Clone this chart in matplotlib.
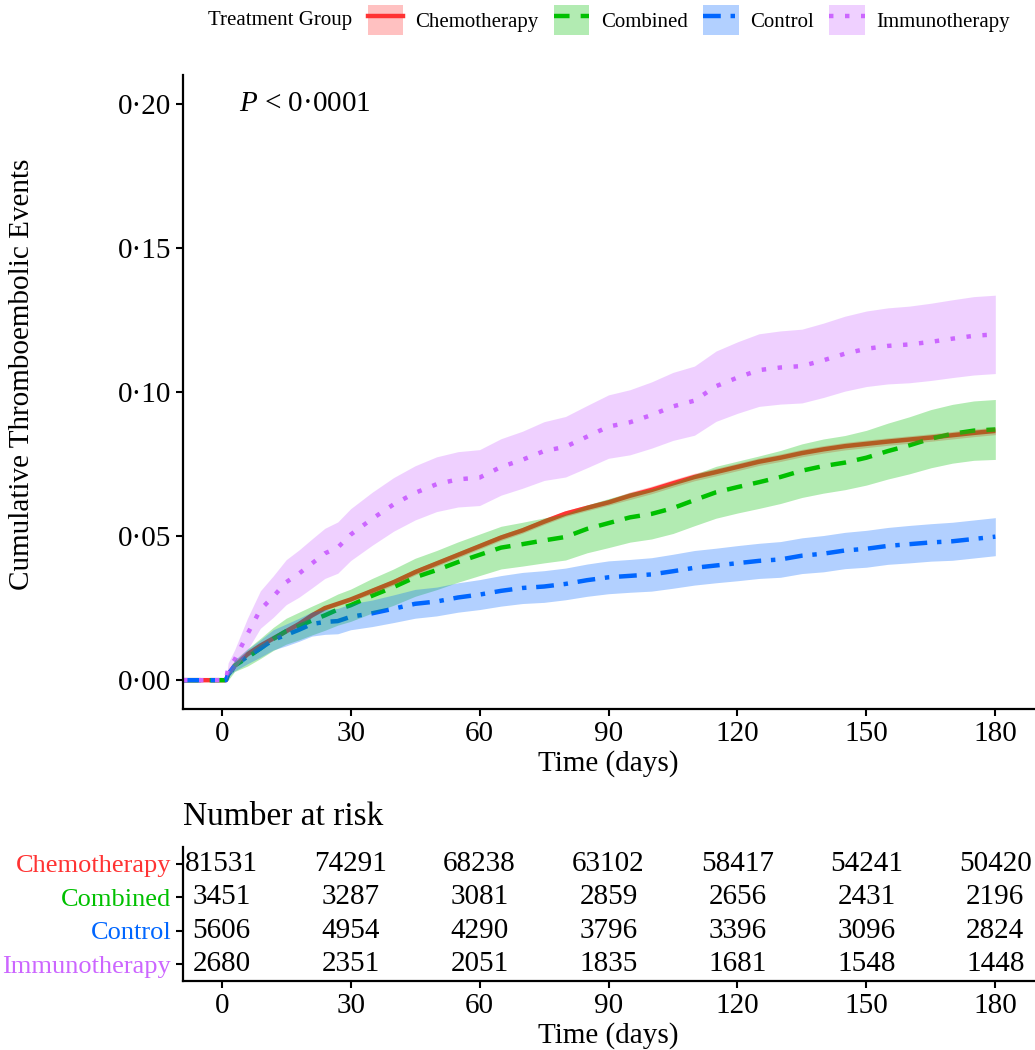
import matplotlib
matplotlib.use('Agg')

import matplotlib.pyplot as plt
from matplotlib.patches import Patch
from matplotlib.lines import Line2D

plt.rcParams['font.family'] = ['Liberation Serif', 'DejaVu Serif']
plt.rcParams['mathtext.fontset'] = 'custom'
plt.rcParams['mathtext.it'] = 'Liberation Serif:italic'
plt.rcParams['mathtext.rm'] = 'Liberation Serif'

# time points (days)
days = [-9, 1, 1.5, 3, 6, 9, 12, 15, 18, 21, 24, 27,
        30, 35, 40, 45, 50, 55, 60, 65, 70, 75, 80, 85, 90, 95, 100, 105,
        110, 115, 120, 125, 130, 135, 140, 145, 150, 155, 160, 165, 170, 175, 180]

groups = ['Chemotherapy', 'Combined', 'Control', 'Immunotherapy']

chemo = [0, 0, .002, .005, .009, .012, .0145, .017, .0195, .0225, .025, .0265,
         .028, .031, .034, .0375, .0405, .0435, .0465, .0495, .052, .055, .0578, .0598, .0617, .064, .066, .0683,
         .0705, .0722, .074, .0758, .0772, .0788, .0801, .0812, .082, .0828, .0835, .0842, .085, .0858, .0865]
chemo_lo = [0, 0, .0016, .0044, .0083, .0113, .0138, .0163, .0188, .0218, .0243, .0258,
            .0273, .0300, .0330, .0365, .0395, .0425, .0455, .0485, .0510, .0540, .0568, .0588, .0607, .0627, .0647, .0670,
            .0692, .0709, .0727, .0745, .0759, .0775, .0788, .0799, .0807, .0815, .0822, .0829, .0837, .0845, .0852]
chemo_hi = [0, 0, .0024, .0056, .0097, .0127, .0152, .0177, .0202, .0232, .0257, .0272,
            .0287, .0320, .0350, .0385, .0415, .0445, .0475, .0505, .0530, .0560, .0588, .0608, .0627, .0653, .0673, .0696,
            .0718, .0735, .0753, .0771, .0785, .0801, .0814, .0825, .0833, .0841, .0848, .0855, .0863, .0871, .0878]

combined = [0, 0, .001, .005, .0079, .011, .0143, .017, .0188, .0207, .0225, .0245,
            .026, .0293, .0323, .0357, .0382, .041, .0435, .046, .0472, .0485, .0497, .0525, .0545, .0565, .0577, .0597,
            .0625, .0652, .067, .0687, .0705, .0727, .0743, .0755, .0772, .0795, .0815, .0838, .0855, .0866, .087]
combined_lo = [0, 0, 0, .003, .0049, .0075, .0103, .0125, .014, .0157, .0173, .0191,
               .0204, .0233, .026, .0291, .0314, .034, .0363, .0386, .0396, .0407, .0417, .0442, .046, .0479, .049, .0509,
               .0536, .0562, .058, .0596, .0613, .0634, .0649, .0661, .0677, .0698, .0716, .0737, .0753, .0763, .0766]
combined_hi = [0, 0, .002, .007, .0109, .0145, .0183, .0215, .0236, .0257, .0277, .0299,
               .0316, .0353, .0386, .0423, .045, .048, .0507, .0534, .0548, .0563, .0577, .0608, .063, .0651, .0664, .0685,
               .0714, .0742, .076, .0778, .0797, .082, .0837, .0849, .0867, .0892, .0914, .0939, .0957, .0969, .0974]

control = [0, 0, .002, .005, .0082, .011, .014, .0157, .0175, .0195, .0202, .0205,
           .022, .0232, .0248, .0265, .0273, .0287, .0297, .031, .032, .0325, .0334, .0347, .0357, .0362, .0367, .0378,
           .039, .0398, .0406, .0414, .0419, .0432, .0439, .045, .0456, .0466, .0472, .0478, .0482, .049, .0498]
control_lo = [0, 0, .001, .0032, .0057, .008, .0105, .0119, .0135, .0153, .0159, .0161,
              .0175, .0186, .02, .0215, .0223, .0236, .0245, .0257, .0266, .027, .0279, .0291, .03, .0305, .0309, .0319,
              .033, .0338, .0345, .0353, .0357, .037, .0376, .0387, .0392, .0402, .0407, .0413, .0416, .0424, .0432]
control_hi = [0, 0, .003, .0068, .0107, .014, .0175, .0195, .0215, .0237, .0245, .0249,
              .0265, .0278, .0296, .0315, .0323, .0338, .0349, .0363, .0374, .038, .0389, .0403, .0414, .0419, .0425, .0437,
              .045, .0458, .0467, .0475, .0481, .0494, .0502, .0513, .052, .053, .0537, .0543, .0548, .0556, .0564]

immuno = [0, 0, .004, .007, .016, .0245, .029, .034, .037, .0405, .044, .046,
          .0505, .056, .061, .065, .068, .0697, .0703, .074, .0765, .0795, .081, .0845, .088, .0895, .092, .095,
          .097, .102, .105, .1076, .1085, .109, .111, .1133, .115, .116, .1165, .1174, .1185, .1195, .12]
immuno_lo = [0, 0, .002, .0035, .0105, .018, .0218, .0262, .0288, .032, .0353, .0371,
             .0415, .0468, .0517, .0556, .0585, .0601, .0606, .0642, .0666, .0693, .0705, .0737, .077, .0782, .0805, .0832,
             .085, .0898, .0926, .095, .0958, .0962, .0981, .1003, .1019, .1028, .1032, .104, .105, .1059, .1064]
immuno_hi = [0, 0, .006, .0105, .0215, .031, .0362, .0418, .0452, .049, .0527, .0549,
             .0595, .0652, .0703, .0744, .0775, .0793, .08, .0838, .0864, .0897, .0915, .0953, .099, .1008, .1035, .1068,
             .109, .1142, .1174, .1202, .1212, .1218, .1239, .1263, .1281, .1292, .1298, .1308, .132, .1331, .1336]

# number at risk table
risk_times = [0, 30, 60, 90, 120, 150, 180]
risk_chemo = [81531, 74291, 68238, 63102, 58417, 54241, 50420]
risk_combined = [3451, 3287, 3081, 2859, 2656, 2431, 2196]
risk_control = [5606, 4954, 4290, 3796, 3396, 3096, 2824]
risk_immuno = [2680, 2351, 2051, 1835, 1681, 1548, 1448]

colors = ['#FF3333', '#00C000', '#0066FF', '#CC66FF']
styles = ['-', (0, (3.5, 2.5)), (0, (4, 2.2, 1, 2.2)), (0, (1, 2.6))]
curves = [chemo, combined, control, immuno]
lows = [chemo_lo, combined_lo, control_lo, immuno_lo]
highs = [chemo_hi, combined_hi, control_hi, immuno_hi]
risks = [risk_chemo, risk_combined, risk_control, risk_immuno]

W, H = 1035, 1050
fig = plt.figure(figsize=(W / 100, H / 100), dpi=100)

ax = fig.add_axes([183 / W, 1 - 709 / H, (1034 - 183) / W, (709 - 75) / H])

# lines first, then ribbons on top (like survminer)
for y, c, ls in zip(curves, colors, styles):
    ax.plot(days, y, color=c, lw=3.2, linestyle=ls, solid_capstyle='butt', zorder=2)
for lo, hi, c in zip(lows, highs, colors):
    ax.fill_between(days, lo, hi, color=c, alpha=0.3, lw=0, zorder=3)

ax.set_xlim(-9, 189)
ax.set_ylim(-0.01, 0.21)
ax.set_xticks([0, 30, 60, 90, 120, 150, 180])
yt = [0, 0.05, 0.10, 0.15, 0.20]
ax.set_yticks(yt)
ax.set_yticklabels([f'{v:.2f}'.replace('.', '·') for v in yt])
ax.tick_params(labelsize=21, length=5, width=1.5, colors='black')
for s in ['top', 'right']:
    ax.spines[s].set_visible(False)
for s in ['left', 'bottom']:
    ax.spines[s].set_linewidth(1.6)
ax.set_xlabel('Time (days)', fontsize=21, labelpad=2)
fig.text(22 / W, 1 - 374 / H, 'Cumulative Thromboembolic Events', fontsize=21,
         rotation=90, ha='center', va='center')
ax.text(4, 0.20, r'$\mathit{P}$ < 0·0001', fontsize=21, ha='left', va='center')

# legend on top
fig.text(208 / W, 1 - 20 / H, 'Treatment Group', fontsize=15, va='center', ha='left')
handles = [(Patch(facecolor=c, alpha=0.3, edgecolor='none'),
            Line2D([], [], color=c, lw=3.2, linestyle=ls))
           for c, ls in zip(colors, styles)]
fig.legend(handles, groups, ncol=4, loc='center left', bbox_to_anchor=(368 / W, 1 - 20 / H),
           frameon=False, fontsize=15, handlelength=1.7, handleheight=1.8,
           handletextpad=0.55, columnspacing=0.75, borderpad=0, borderaxespad=0)

# risk table
ax2 = fig.add_axes([183 / W, 1 - 981 / H, (1034 - 183) / W, (981 - 847) / H])
for row, (r, c) in enumerate(zip(risks, colors)):
    yrow = 4 - row
    for t, n in zip(risk_times, r):
        ax2.text(t, yrow, str(n), fontsize=21, ha='center', va='center')
ax2.set_xlim(-9, 189)
ax2.set_ylim(0.5, 4.5)
ax2.set_xticks(risk_times)
ax2.set_yticks([4, 3, 2, 1])
ax2.set_yticklabels(groups, fontsize=19)
for lab, c in zip(ax2.get_yticklabels(), colors):
    lab.set_color(c)
ax2.tick_params(axis='x', labelsize=21)
ax2.tick_params(length=5, width=1.5)
for s in ['top', 'right']:
    ax2.spines[s].set_visible(False)
for s in ['left', 'bottom']:
    ax2.spines[s].set_linewidth(1.6)
ax2.set_xlabel('Time (days)', fontsize=21, labelpad=2)
fig.text(183 / W, 1 - 817 / H, 'Number at risk', fontsize=24, ha='left', va='center')

plt.savefig('out.png', dpi=100)
